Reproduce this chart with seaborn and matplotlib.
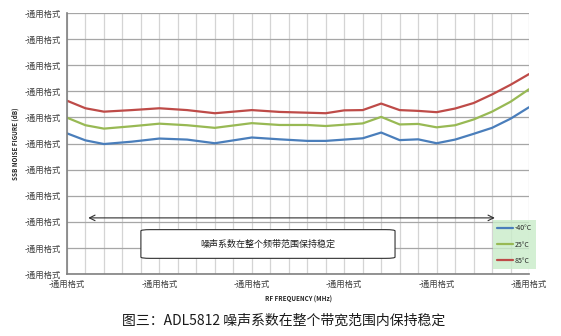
# 噪声系数图 - ADL5812
import numpy as np
import pandas as pd
import matplotlib.pyplot as plt
from matplotlib.patches import FancyBboxPatch
import seaborn as sns

# -----------------------
# 数据
# -----------------------
freq = [0, 0.2, 0.4, 0.7, 1.0, 1.3, 1.6, 2.0, 2.3, 2.6, 2.8, 3.0, 3.2, 3.4,
        3.6, 3.8, 4.0, 4.2, 4.4, 4.6, 4.8, 5.0]
nf_m40 = [5.39, 5.12, 4.98, 5.07, 5.19, 5.15, 5.01, 5.23, 5.16, 5.10, 5.10,
          5.15, 5.20, 5.42, 5.13, 5.16, 5.01, 5.15, 5.37, 5.60, 5.95, 6.39]
nf_25 = [5.99, 5.70, 5.57, 5.66, 5.76, 5.70, 5.60, 5.78, 5.71, 5.71, 5.67,
         5.72, 5.77, 6.02, 5.73, 5.75, 5.62, 5.70, 5.92, 6.22, 6.60, 7.08]
nf_85 = [6.64, 6.35, 6.22, 6.28, 6.35, 6.28, 6.16, 6.28, 6.21, 6.18, 6.16,
         6.27, 6.28, 6.53, 6.28, 6.25, 6.20, 6.34, 6.55, 6.88, 7.25, 7.66]
temps = ["-40°C", "25°C", "85°C"]
colors = ["#4a7ebb", "#98b954", "#be4b48"]

x_ticks = [0, 1, 2, 3, 4, 5]
y_ticks = list(range(11))
tick_text = "-通用格式"

df = pd.DataFrame({
    "freq": freq * 3,
    "nf": nf_m40 + nf_25 + nf_85,
    "temp": [temps[0]] * len(freq) + [temps[1]] * len(freq) + [temps[2]] * len(freq),
})

# -----------------------
# 图形
# -----------------------
sns.set_style("white")
plt.rcParams["font.family"] = ["Noto Sans CJK SC", "DejaVu Sans"]

fig = plt.figure(figsize=(5.61, 3.36), dpi=100)
ax = fig.add_axes([0.1194, 0.1845, 0.8236, 0.7768])

sns.lineplot(data=df, x="freq", y="nf", hue="temp", palette=colors,
             linewidth=1.6, ax=ax, legend=False)

ax.set_xlim(0, 5)
ax.set_ylim(0, 10)

# 网格
ax.set_xticks(np.arange(0, 5.01, 0.2), minor=True)
ax.grid(which="minor", axis="x", color="#d4d4d4", linewidth=0.9)
ax.grid(which="major", axis="x", color="#d4d4d4", linewidth=0.9)
ax.grid(which="major", axis="y", color="#a6a6a6", linewidth=0.9)
ax.set_axisbelow(True)

ax.set_xticks(x_ticks)
ax.set_xticklabels([tick_text] * len(x_ticks), fontsize=6, color="#404040")
ax.set_yticks(y_ticks)
ax.set_yticklabels([tick_text] * len(y_ticks), fontsize=6, color="#404040")
ax.tick_params(which="both", length=0, pad=4)

ax.set_xlabel("RF FREQUENCY (MHz)", fontsize=4.5, fontweight="bold", labelpad=5)
ax.set_ylabel("SSB NOISE FIGURE (dB)", fontsize=4.5, fontweight="bold", labelpad=4)

for side in ["top", "right"]:
    ax.spines[side].set_visible(False)
for side in ["left", "bottom"]:
    ax.spines[side].set_color("#808080")
    ax.spines[side].set_linewidth(1.2)

# 箭头
ax.annotate("", xy=(0.2, 2.15), xytext=(4.66, 2.15),
            arrowprops=dict(arrowstyle="<->", color="#303030", lw=0.8))

# 文字框
box = FancyBboxPatch((0.8, 0.6), 2.75, 1.1, boxstyle="round,pad=0,rounding_size=0.1",
                     mutation_aspect=1 / 2.0, facecolor="white", edgecolor="#303030",
                     linewidth=0.8)
ax.add_patch(box)
ax.text(2.175, 1.15, "噪声系数在整个频带范围保持稳定", fontsize=6.5,
        ha="center", va="center", color="#202020")

# 图例
leg = fig.legend(handles=[plt.Line2D([], [], color=c, lw=1.6) for c in colors],
                 labels=temps, loc="upper left", bbox_to_anchor=(0.879, 0.345),
                 fontsize=5, frameon=True, handlelength=2.2, labelspacing=1.2,
                 borderpad=0.6, handletextpad=0.3, borderaxespad=0)
leg.get_frame().set_facecolor("#c9ecc9")
leg.get_frame().set_edgecolor("none")
leg.get_frame().set_boxstyle("square", pad=0)

# 标题
fig.text(0.505, 0.045, "图三：ADL5812 噪声系数在整个带宽范围内保持稳定",
         fontsize=10, ha="center", va="center", color="#1a1a1a")

fig.savefig("out.png", dpi=100, facecolor="white")
